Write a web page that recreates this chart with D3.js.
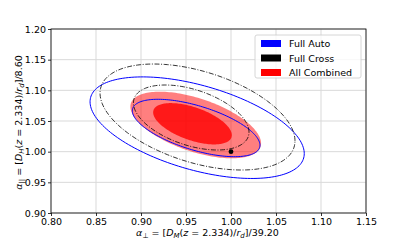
<!DOCTYPE html>
<html>
<head>
<meta charset="utf-8">
<script src="https://cdn.jsdelivr.net/npm/d3@7"></script>
<style>
  body { margin: 0; background: #fff; }
  svg text { font-family: "DejaVu Sans", sans-serif; fill: #000; }
</style>
</head>
<body>
<div id="chart"></div>
<script>
// contour table: one row per drawn contour (level 1 = 1 sigma, 2 = 2 sigma)
var contourSet   = ["All Combined", "All Combined", "Full Auto", "Full Auto", "Full Cross", "Full Cross"];
var contourLevel = [2, 1, 2, 1, 2, 1];
var centerX = [0.9608, 0.9572, 0.9624, 0.9613, 0.9628, 0.9558];
var centerY = [1.0435, 1.0455, 1.0391, 1.0386, 1.0565, 1.0557];
var halfX   = [0.0726, 0.0437, 0.1190, 0.0709, 0.1083, 0.0642];
var halfY   = [0.0543, 0.0337, 0.0828, 0.0468, 0.0864, 0.0530];
var corr    = [-0.55, -0.55, -0.51, -0.60, -0.45, -0.45];

var fiducial = [1.0, 1.0];

var legendNames  = ["Full Auto", "Full Cross", "All Combined"];
var legendColors = ["#0000ff", "#000000", "#ff0000"];

var xTicks = [0.80, 0.85, 0.90, 0.95, 1.00, 1.05, 1.10, 1.15];
var yTicks = [0.90, 0.95, 1.00, 1.05, 1.10, 1.15, 1.20];

var width = 407, height = 244;
var margin = {left: 51, right: 41, top: 29, bottom: 31};

var svg = d3.select('#chart').append('svg')
            .attr('width', width)
            .attr('height', height);

var x = d3.scaleLinear().domain([0.80, 1.15]).range([margin.left, width - margin.right]);
var y = d3.scaleLinear().domain([0.90, 1.20]).range([height - margin.bottom, margin.top]);

// grid
svg.append('g').selectAll('line').data(xTicks).enter().append('line')
   .attr('x1', function(d) { return x(d); }).attr('x2', function(d) { return x(d); })
   .attr('y1', y(0.90)).attr('y2', y(1.20))
   .attr('stroke', '#d9d9d9').attr('stroke-width', 1);
svg.append('g').selectAll('line').data(yTicks).enter().append('line')
   .attr('y1', function(d) { return y(d); }).attr('y2', function(d) { return y(d); })
   .attr('x1', x(0.80)).attr('x2', x(1.15))
   .attr('stroke', '#d9d9d9').attr('stroke-width', 1);

// ellipse outline from center, half extents and correlation
var angles = d3.range(0, 2 * Math.PI, Math.PI / 90);
function ellipsePoints(i) {
  var s = Math.sqrt(1 - corr[i] * corr[i]);
  return angles.map(function(t) {
    return [centerX[i] + halfX[i] * Math.cos(t),
            centerY[i] + halfY[i] * (corr[i] * Math.cos(t) + s * Math.sin(t))];
  });
}
var line = d3.line()
             .x(function(d) { return x(d[0]); })
             .y(function(d) { return y(d[1]); })
             .curve(d3.curveLinearClosed);

var idx = d3.range(contourSet.length);

idx.forEach(function(i) {
  var path = svg.append('path').attr('d', line(ellipsePoints(i)));
  if (contourSet[i] === 'All Combined') {
    path.attr('fill', '#ff0000')
        .attr('fill-opacity', contourLevel[i] === 2 ? 0.5 : 0.8)
        .attr('stroke', 'none');
  } else if (contourSet[i] === 'Full Auto') {
    path.attr('fill', 'none').attr('stroke', '#0000ff').attr('stroke-width', 1);
  } else {
    path.attr('fill', 'none').attr('stroke', '#000')
        .attr('stroke-width', 0.8)
        .attr('stroke-dasharray', '5,1.6,1,1.6');
  }
});

// fiducial point
svg.append('circle')
   .attr('cx', x(fiducial[0])).attr('cy', y(fiducial[1]))
   .attr('r', 2.4).attr('fill', '#000');

// frame
svg.append('rect')
   .attr('x', x(0.80)).attr('y', y(1.20))
   .attr('width', x(1.15) - x(0.80)).attr('height', y(0.90) - y(1.20))
   .attr('fill', 'none').attr('stroke', '#000').attr('stroke-width', 0.8);

// axes
var xAxis = d3.axisBottom(x).tickValues(xTicks).tickFormat(d3.format('.2f'))
              .tickSize(3).tickPadding(2);
var yAxis = d3.axisLeft(y).tickValues(yTicks).tickFormat(d3.format('.2f'))
              .tickSize(3).tickPadding(2);

var gx = svg.append('g').attr('transform', 'translate(0,' + y(0.90) + ')').call(xAxis);
var gy = svg.append('g').attr('transform', 'translate(' + x(0.80) + ',0)').call(yAxis);
[gx, gy].forEach(function(g) {
  g.select('.domain').remove();
  g.selectAll('line').attr('stroke', '#000').attr('stroke-width', 0.8);
  g.selectAll('text').attr('font-size', '9.5px').attr('font-family', '"DejaVu Sans", sans-serif').attr('fill', '#000');
});

// axis labels
var xl = svg.append('text').attr('x', 207.5).attr('y', 236)
            .attr('text-anchor', 'middle').attr('font-size', '9.5px');
xl.append('tspan').attr('font-style', 'italic').text('α');
xl.append('tspan').attr('font-size', '7px').attr('dy', 2).text('⊥');
xl.append('tspan').attr('dy', -2).text(' = [');
xl.append('tspan').attr('font-style', 'italic').text('D');
xl.append('tspan').attr('font-style', 'italic').attr('font-size', '7px').attr('dy', 2).text('M');
xl.append('tspan').attr('dy', -2).text('(');
xl.append('tspan').attr('font-style', 'italic').text('z');
xl.append('tspan').text(' = 2.334)/');
xl.append('tspan').attr('font-style', 'italic').text('r');
xl.append('tspan').attr('font-style', 'italic').attr('font-size', '7px').attr('dy', 2).text('d');
xl.append('tspan').attr('dy', -2).text(']/39.20');

var yl = svg.append('text')
            .attr('transform', 'translate(22,122.5) rotate(-90)')
            .attr('text-anchor', 'middle').attr('font-size', '9.5px');
yl.append('tspan').attr('font-style', 'italic').text('α');
yl.append('tspan').attr('font-size', '7px').attr('dy', 2).text('||');
yl.append('tspan').attr('dy', -2).text(' = [');
yl.append('tspan').attr('font-style', 'italic').text('D');
yl.append('tspan').attr('font-style', 'italic').attr('font-size', '7px').attr('dy', 2).text('H');
yl.append('tspan').attr('dy', -2).text('(');
yl.append('tspan').attr('font-style', 'italic').text('z');
yl.append('tspan').text(' = 2.334)/');
yl.append('tspan').attr('font-style', 'italic').text('r');
yl.append('tspan').attr('font-style', 'italic').attr('font-size', '7px').attr('dy', 2).text('d');
yl.append('tspan').attr('dy', -2).text(']/8.60');

// legend
var legend = svg.append('g').attr('transform', 'translate(255,35)');
legend.append('rect').attr('width', 106).attr('height', 43).attr('rx', 2)
      .attr('fill', '#fff').attr('fill-opacity', 0.8)
      .attr('stroke', '#cccccc').attr('stroke-width', 0.8);
var rows = legend.selectAll('g.row').data(legendNames).enter().append('g')
                 .attr('transform', function(d, i) { return 'translate(0,' + (5 + i * 14.5) + ')'; });
rows.append('rect').attr('x', 6).attr('width', 20).attr('height', 7)
    .attr('fill', function(d, i) { return legendColors[i]; });
rows.append('text').attr('x', 34).attr('y', 7).attr('font-size', '9.5px')
    .text(function(d) { return d; });
</script>
</body>
</html>
